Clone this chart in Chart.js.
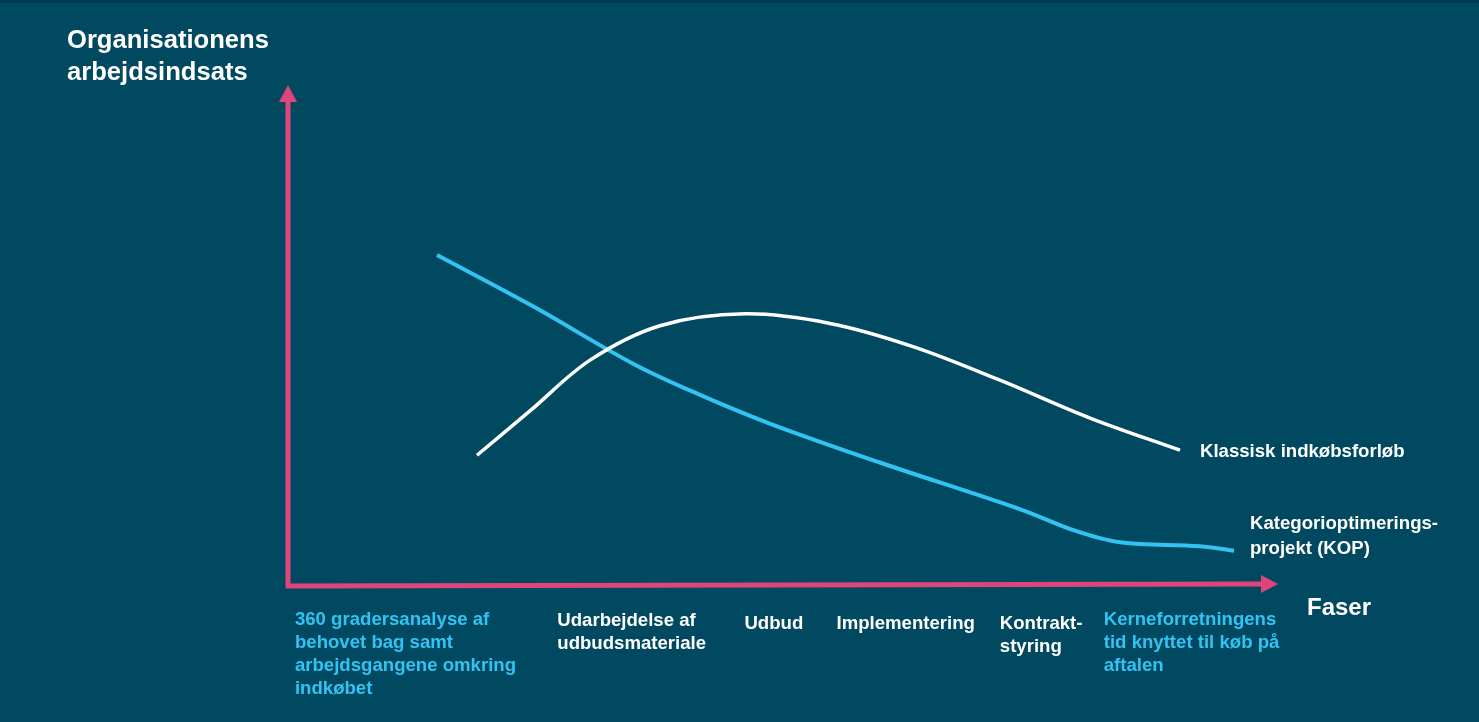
<!DOCTYPE html>
<html lang="da">
<head>
<meta charset="utf-8">
<title>Organisationens arbejdsindsats</title>
<script src="https://cdn.jsdelivr.net/npm/chart.js@4.4.1/dist/chart.umd.min.js"></script>
<style>
  html, body { margin: 0; padding: 0; }
  body { background: #004961; }
  #wrap { position: relative; width: 1479px; height: 722px; box-sizing: border-box; border-top: 3px solid #003a4f; }
</style>
</head>
<body>
<div id="wrap"><canvas id="chartFaser"></canvas></div>
<script>
// kurver (x = fase 0-100, y = arbejdsindsats 0-100)
const kopX = [15.05, 24.75, 34.85, 41.62, 48.79, 59.7, 74.04, 79.49, 84.04, 92.12, 95.56];
const kopY = [66.06, 55.82, 44.38, 38.15, 32.33, 24.7, 15.26, 11.04, 8.73, 7.93, 7.03];

const klassiskX = [19.09, 24.44, 30.51, 37.58, 46.16, 54.75, 63.13, 71.92, 81.01, 90.1];
const klassiskY = [26.1, 34.94, 45.08, 51.95, 54.32, 52.41, 47.79, 41.08, 33.53, 27.11];

const faseLabels = [
  ["360 gradersanalyse af", "behovet bag samt", "arbejdsgangene omkring", "indkøbet"],
  ["Udarbejdelse af", "udbudsmateriale"],
  ["Udbud"],
  ["Implementering"],
  ["Kontrakt-", "styring"],
  ["Kerneforretningens", "tid knyttet til køb på", "aftalen"]
];
const faseBlaa = [true, false, false, false, false, true];

const serieNavne = [["Klassisk indkøbsforløb"], ["Kategorioptimerings-", "projekt (KOP)"]];
const yTitel = ["Organisationens", "arbejdsindsats"];
const xTitel = "Faser";

// layout
const faseStartX = [0.7, 27.2, 46.1, 55.4, 71.9, 82.4];
const faseTopY = [617, 618, 621, 621, 621, 617];

const PINK = "#df457a";
const BLAA = "#33c3f3";
const HVID = "#ffffff";
const FONT = "'Liberation Sans', Arial, sans-serif";

function tilPunkter(xs, ys) {
  return xs.map((x, i) => ({ x: x, y: ys[i] }));
}

function tegnTekst(ctx, linjer, x, y, farve, size, lh) {
  ctx.fillStyle = farve;
  ctx.font = "bold " + size + "px " + FONT;
  ctx.textBaseline = "middle";
  ctx.textAlign = "left";
  linjer.forEach((l, i) => ctx.fillText(l, x, y + i * lh));
}

const akserPlugin = {
  id: "akser",
  beforeDatasetsDraw(chart) {
    const ctx = chart.ctx;
    const sx = chart.scales.x;
    const sy = chart.scales.y;
    const x0 = sx.getPixelForValue(0);
    const y0 = sy.getPixelForValue(0);
    const xEnd = sx.getPixelForValue(100);
    const yEnd = sy.getPixelForValue(100);

    ctx.save();
    ctx.strokeStyle = PINK;
    ctx.fillStyle = PINK;
    ctx.lineWidth = 5;
    ctx.beginPath();
    ctx.moveTo(x0, yEnd + 14);
    ctx.lineTo(x0, y0);
    ctx.lineTo(xEnd - 14, y0 - 2);
    ctx.stroke();

    ctx.beginPath();
    ctx.moveTo(x0, yEnd);
    ctx.lineTo(x0 - 9, yEnd + 17);
    ctx.lineTo(x0 + 9, yEnd + 17);
    ctx.closePath();
    ctx.fill();

    ctx.beginPath();
    ctx.moveTo(xEnd, y0 - 2);
    ctx.lineTo(xEnd - 17, y0 - 11);
    ctx.lineTo(xEnd - 17, y0 + 7);
    ctx.closePath();
    ctx.fill();
    ctx.restore();
  },
  afterDraw(chart) {
    const ctx = chart.ctx;
    const sx = chart.scales.x;
    ctx.save();
    tegnTekst(ctx, yTitel, 67, 38, HVID, 25.6, 32);
    tegnTekst(ctx, [xTitel], 1307, 605, HVID, 24, 28);

    faseLabels.forEach((linjer, i) => {
      const farve = faseBlaa[i] ? BLAA : HVID;
      tegnTekst(ctx, linjer, sx.getPixelForValue(faseStartX[i]), faseTopY[i], farve, 18.6, 23);
    });

    tegnTekst(ctx, serieNavne[0], 1200, 449, HVID, 18.6, 24);
    tegnTekst(ctx, serieNavne[1], 1250, 521, HVID, 18.6, 25);
    ctx.restore();
  }
};

new Chart(document.getElementById("chartFaser"), {
  type: "line",
  data: {
    datasets: [
      {
        label: serieNavne[0].join(" "),
        data: tilPunkter(klassiskX, klassiskY),
        borderColor: HVID,
        borderWidth: 3.5,
        pointRadius: 0,
        tension: 0.35,
        fill: false
      },
      {
        label: serieNavne[1].join(" "),
        data: tilPunkter(kopX, kopY),
        borderColor: BLAA,
        borderWidth: 4,
        pointRadius: 0,
        tension: 0.35,
        fill: false
      }
    ]
  },
  options: {
    responsive: true,
    maintainAspectRatio: false,
    animation: false,
    clip: false,
    layout: { padding: { left: 288, right: 201, top: 82, bottom: 136 } },
    plugins: {
      legend: { display: false },
      tooltip: { enabled: false }
    },
    scales: {
      x: { type: "linear", min: 0, max: 100, display: false },
      y: { type: "linear", min: 0, max: 100, display: false }
    }
  },
  plugins: [akserPlugin]
});
</script>
</body>
</html>
